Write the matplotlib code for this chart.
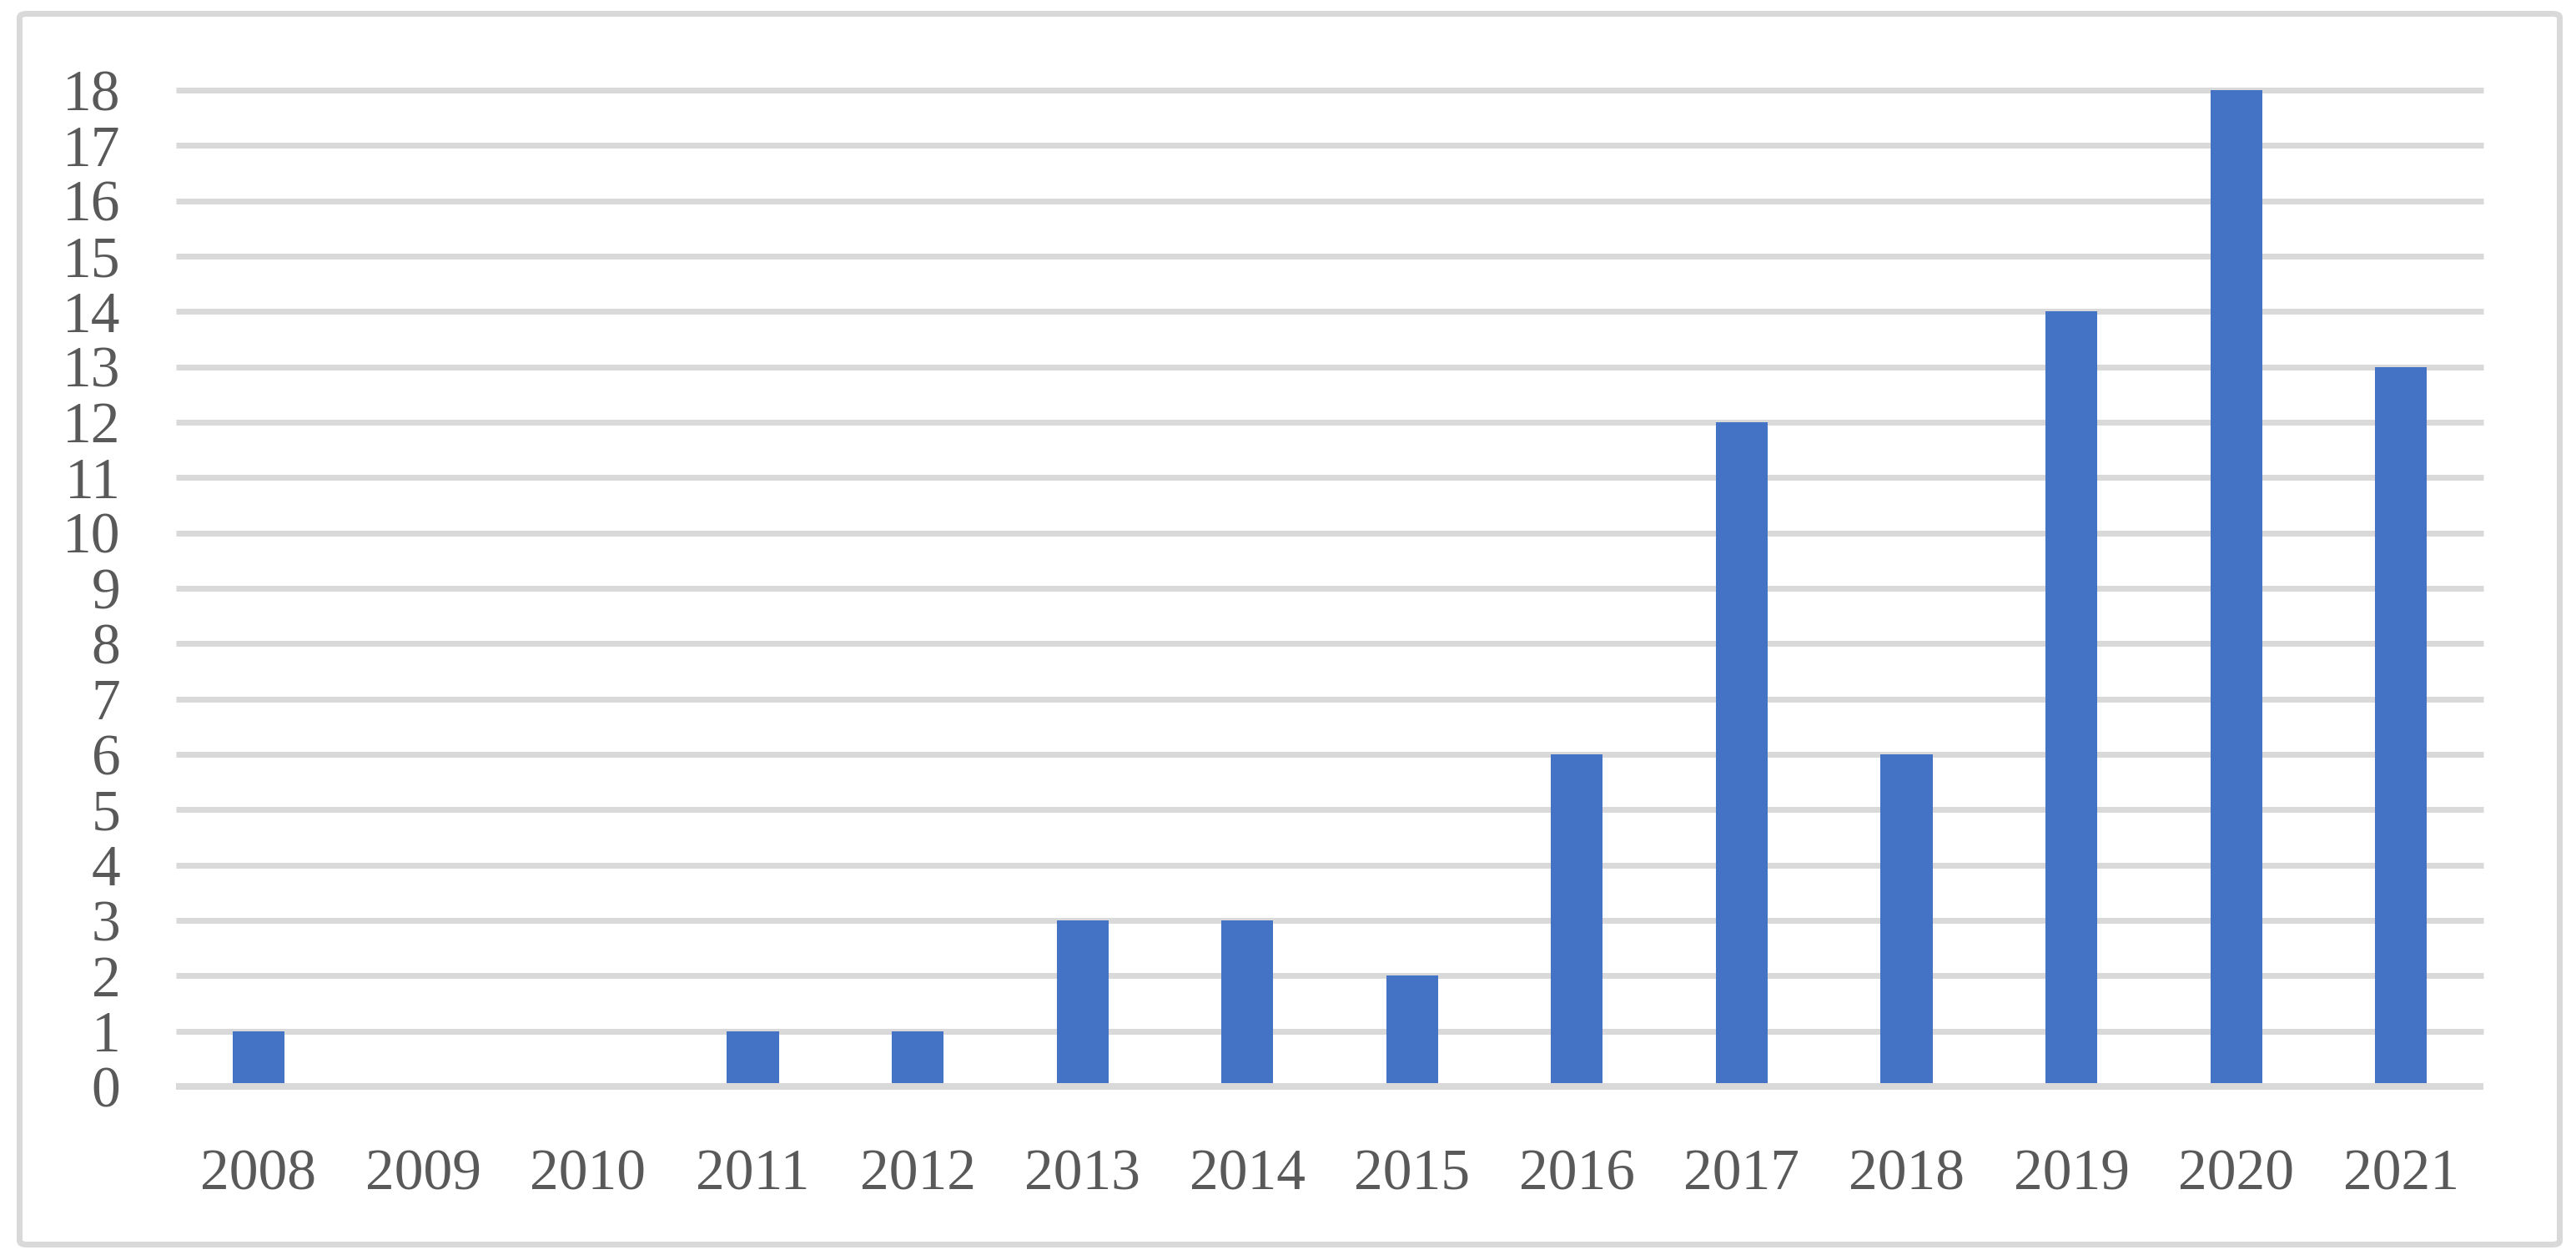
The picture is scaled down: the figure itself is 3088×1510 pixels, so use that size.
import numpy as np
import matplotlib
matplotlib.use('Agg')
import matplotlib.pyplot as plt
from matplotlib.patches import FancyBboxPatch

years = ['2008', '2009', '2010', '2011', '2012', '2013', '2014',
         '2015', '2016', '2017', '2018', '2019', '2020', '2021']
counts = [1, 0, 0, 1, 1, 3, 3, 2, 6, 12, 6, 14, 18, 13]
y_ticks = list(range(0, 19))

W, H, DPI = 3088, 1510, 200
text_color = '#595959'
grid_color = '#d9d9d9'
bar_color = '#4472c4'

plt.rcParams['font.family'] = ['Liberation Serif', 'DejaVu Serif']

fig = plt.figure(figsize=(W / DPI, H / DPI), dpi=DPI)

# outer chart border (rounded, light grey)
border = FancyBboxPatch((23.5 / W, 18.5 / H), (3068.5 - 23.5) / W, (1491.5 - 16.5) / H,
                        boxstyle='round,pad=0,rounding_size=0.003',
                        transform=fig.transFigure, fill=False,
                        edgecolor=grid_color, linewidth=7 * 72 / DPI)
fig.patches.append(border)

ax = fig.add_axes([211 / W, (H - 1302) / H, (2977 - 211) / W, (1302 - 108) / H])

x = np.arange(len(years))
ax.set_xlim(-0.5, len(years) - 0.5)
ax.set_ylim(0, 18)

# horizontal gridlines (behind bars), axis line at 0 on top
ax.hlines(y_ticks[1:], -0.5, len(years) - 0.5, colors=grid_color,
          linewidth=7 * 72 / DPI, zorder=1, clip_on=False)
ax.bar(x, counts, width=0.315, color=bar_color, zorder=2)
ax.hlines(0, -0.5, len(years) - 0.5, colors=grid_color,
          linewidth=8 * 72 / DPI, zorder=3, clip_on=False)

for s in ax.spines.values():
    s.set_visible(False)

ax.set_yticks(y_ticks)
ax.set_xticks(x)
ax.set_xticklabels(years)
ax.tick_params(axis='both', length=0, labelsize=25, labelcolor=text_color)
ax.tick_params(axis='y', pad=24)
ax.tick_params(axis='x', pad=27)

fig.savefig('out.png', dpi=DPI, facecolor='white')
